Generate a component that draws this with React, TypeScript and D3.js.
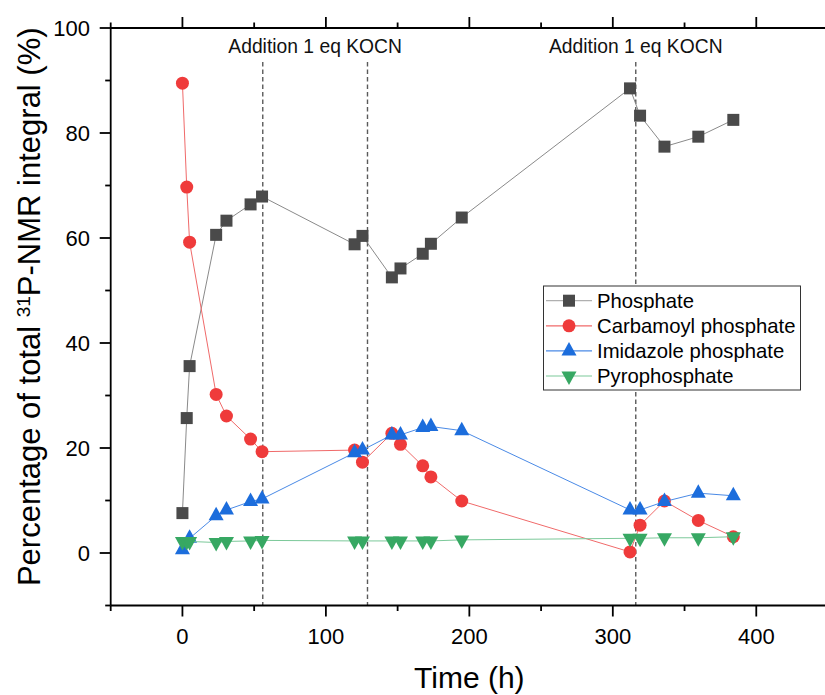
import React from "react";
import * as d3 from "d3";

const timePhosphate = [0, 3, 5, 23.5, 30.7, 47.5, 55.5, 120, 125.5, 146, 152, 167.5, 173.2, 194.7, 312, 319, 336, 359.6, 384];
const phosphate = [7.6, 25.7, 35.6, 60.6, 63.3, 66.4, 67.9, 58.8, 60.4, 52.5, 54.2, 57.0, 58.9, 63.9, 88.5, 83.3, 77.4, 79.3, 82.5];

const timeCarbamoyl = [0, 3, 5, 23.5, 30.7, 47.5, 55.5, 120, 125.5, 146, 152, 167.5, 173.2, 194.7, 312, 319, 336, 359.6, 384];
const carbamoyl = [89.5, 69.7, 59.2, 30.2, 26.1, 21.7, 19.3, 19.6, 17.3, 22.8, 20.7, 16.6, 14.5, 9.9, 0.2, 5.3, 9.9, 6.2, 3.1];

const timeImidazole = [0, 5, 23.5, 30.7, 47.5, 55.5, 120, 125.5, 146, 152, 167.5, 173.2, 194.7, 312, 319, 336, 359.6, 384];
const imidazole = [0.6, 2.8, 7.1, 8.2, 9.8, 10.3, 19.1, 19.6, 22.5, 22.5, 23.9, 24.1, 23.3, 8.2, 8.2, 9.8, 11.4, 10.9];

const timePyro = [0, 3, 5, 23.5, 30.7, 47.5, 55.5, 120, 125.5, 146, 152, 167.5, 173.2, 194.7, 312, 319, 336, 359.6, 384];
const pyrophosphate = [2.2, 2.2, 2.2, 2.0, 2.2, 2.3, 2.4, 2.3, 2.3, 2.3, 2.3, 2.3, 2.3, 2.5, 2.8, 2.8, 2.9, 2.9, 3.1];

const additionTimes = [56, 129, 316];
const annotations = [
  { text: "Addition 1 eq KOCN", from: 56, to: 129 },
  { text: "Addition 1 eq KOCN", from: 316, to: 316 },
];

const xMajorTicks = [0, 100, 200, 300, 400];
const xMinorTicks = [-50, 50, 150, 250, 350, 450];
const yMajorTicks = [0, 20, 40, 60, 80, 100];
const yMinorTicks = [-10, 10, 30, 50, 70, 90];

const seriesNames = ["Phosphate", "Carbamoyl phosphate", "Imidazole phosphate", "Pyrophosphate"];

const FONT = "'Liberation Sans', Arial, Helvetica, sans-serif";

type Shape = "square" | "circle" | "up" | "down";

function Marker({ shape, x, y, color }: { shape: Shape; x: number; y: number; color: string }) {
  if (shape === "square") {
    const s = 12;
    return <rect x={x - s / 2} y={y - s / 2} width={s} height={s} fill={color} />;
  }
  if (shape === "circle") {
    return <circle cx={x} cy={y} r={6.5} fill={color} />;
  }
  const w = 15;
  const h = 13.5;
  if (shape === "up") {
    const p = `M${x},${y - (2 * h) / 3} L${x + w / 2},${y + h / 3} L${x - w / 2},${y + h / 3} Z`;
    return <path d={p} fill={color} />;
  }
  const p = `M${x},${y + (2 * h) / 3} L${x + w / 2},${y - h / 3} L${x - w / 2},${y - h / 3} Z`;
  return <path d={p} fill={color} />;
}

export default function App() {
  const W = 825;
  const H = 695;
  const left = 110.7;
  const right = 828;
  const top = 28;
  const bottom = 605.5;
  const x = d3.scaleLinear().domain([-50, 450]).range([left, right]);
  const y = d3.scaleLinear().domain([-10, 100]).range([bottom, top]);

  const series = [
    { name: seriesNames[0], t: timePhosphate, v: phosphate, shape: "square" as Shape, color: "#4a4a4a", line: "#8a8a8a", legendLine: "#b0b0b0" },
    { name: seriesNames[1], t: timeCarbamoyl, v: carbamoyl, shape: "circle" as Shape, color: "#ef3b3b", line: "#f06a6a", legendLine: "#f06a6a" },
    { name: seriesNames[2], t: timeImidazole, v: imidazole, shape: "up" as Shape, color: "#1c6ddc", line: "#4a8ae6", legendLine: "#4a8ae6" },
    { name: seriesNames[3], t: timePyro, v: pyrophosphate, shape: "down" as Shape, color: "#37a863", line: "#7cc99a", legendLine: "#7cc99a" },
  ];

  const line = d3.line<[number, number]>().x((d) => x(d[0])).y((d) => y(d[1]));

  const axisColor = "#000";
  const axisW = 1.8;

  const legendX = 543.5;
  const legendY = 286;
  const legendW = 257;
  const legendH = 104;
  const rowH = 25.1;

  return (
    <svg width={W} height={H} style={{ position: "absolute", left: 0, top: 0, background: "#fff" }} fontFamily={FONT}>
      <rect x={0} y={0} width={W} height={H} fill="#fff" />

      {/* dashed addition lines */}
      {additionTimes.map((t, i) => (
        <line key={"dl" + i} x1={x(t)} x2={x(t)} y1={62} y2={bottom} stroke="#5a5a5a" strokeWidth={1.4} strokeDasharray="4.5,3" />
      ))}

      {/* annotations */}
      {annotations.map((a, i) => (
        <text key={"an" + i} x={(x(a.from) + x(a.to)) / 2} y={53} fontSize={19.3} textAnchor="middle" fill="#111">
          {a.text}
        </text>
      ))}

      {/* series */}
      {series.map((s, si) => {
        const pts: [number, number][] = s.t.map((t, i) => [t, s.v[i]]);
        return (
          <g key={"s" + si}>
            <path d={line(pts) || ""} fill="none" stroke={s.line} strokeWidth={1} />
            {pts.map((p, i) => (
              <Marker key={i} shape={s.shape} x={x(p[0])} y={y(p[1])} color={s.color} />
            ))}
          </g>
        );
      })}

      {/* axes frame */}
      <line x1={left} x2={right} y1={bottom} y2={bottom} stroke={axisColor} strokeWidth={axisW} />
      <line x1={left} x2={right} y1={top} y2={top} stroke={axisColor} strokeWidth={axisW} />
      <line x1={left} x2={left} y1={top} y2={bottom} stroke={axisColor} strokeWidth={axisW} />
      <line x1={right} x2={right} y1={top} y2={bottom} stroke={axisColor} strokeWidth={axisW} />

      {/* x ticks */}
      {xMajorTicks.map((t) => (
        <g key={"xt" + t}>
          <line x1={x(t)} x2={x(t)} y1={bottom} y2={bottom + 11} stroke={axisColor} strokeWidth={axisW} />
          <line x1={x(t)} x2={x(t)} y1={top} y2={top - 11} stroke={axisColor} strokeWidth={axisW} />
          <text x={x(t)} y={644} fontSize={22} textAnchor="middle" fill="#000">
            {t}
          </text>
        </g>
      ))}
      {xMinorTicks.map((t) => (
        <g key={"xm" + t}>
          <line x1={x(t)} x2={x(t)} y1={bottom} y2={bottom + 5.5} stroke={axisColor} strokeWidth={axisW} />
          <line x1={x(t)} x2={x(t)} y1={top} y2={top - 5.5} stroke={axisColor} strokeWidth={axisW} />
        </g>
      ))}

      {/* y ticks */}
      {yMajorTicks.map((v) => (
        <g key={"yt" + v}>
          <line x1={left} x2={left - 11} y1={y(v)} y2={y(v)} stroke={axisColor} strokeWidth={axisW} />
          <text x={90} y={y(v) + 8} fontSize={22} textAnchor="end" fill="#000">
            {v}
          </text>
        </g>
      ))}
      {yMinorTicks.map((v) => (
        <line key={"ym" + v} x1={left} x2={left - 5.5} y1={y(v)} y2={y(v)} stroke={axisColor} strokeWidth={axisW} />
      ))}

      {/* axis titles */}
      <text x={(left + right) / 2} y={688} fontSize={30} textAnchor="middle" fill="#000">
        Time (h)
      </text>
      <text transform={`translate(40,${(top + bottom) / 2 - 10}) rotate(-90)`} fontSize={31} textAnchor="middle" fill="#000">
        Percentage of total <tspan baselineShift="super" fontSize={19}>31</tspan>P-NMR integral (%)
      </text>

      {/* legend */}
      <rect x={legendX} y={legendY} width={legendW} height={legendH} fill="#fff" stroke="#333" strokeWidth={1} />
      {series.map((s, i) => {
        const cy = legendY + 14.7 + i * rowH;
        return (
          <g key={"lg" + i}>
            <line x1={546} x2={592} y1={cy} y2={cy} stroke={s.legendLine} strokeWidth={1.2} />
            <Marker shape={s.shape} x={569} y={cy} color={s.color} />
            <text x={597} y={cy + 7.2} fontSize={20.3} fill="#000">
              {s.name}
            </text>
          </g>
        );
      })}
    </svg>
  );
}
